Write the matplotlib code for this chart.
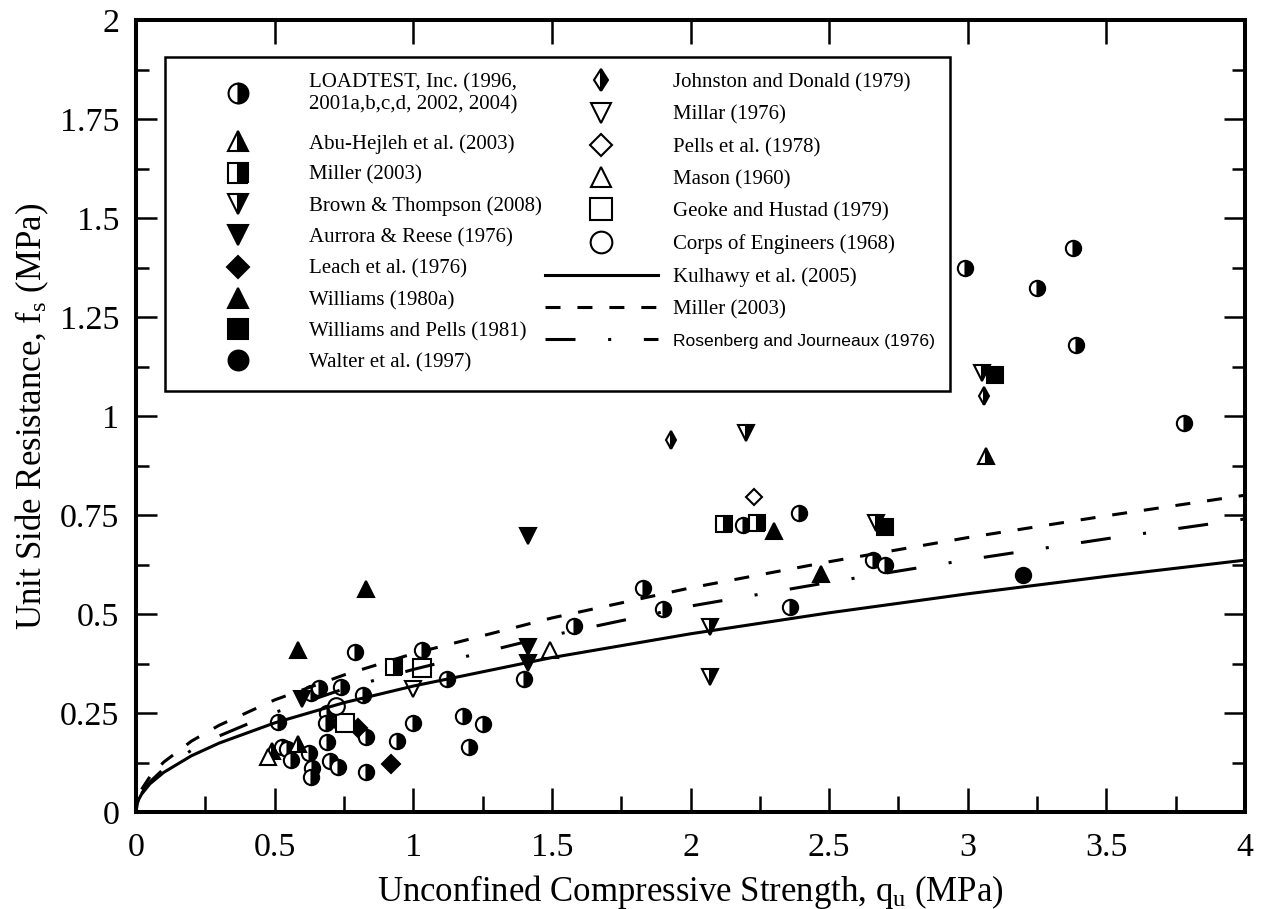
import matplotlib
matplotlib.use('Agg')
import matplotlib.pyplot as plt
from matplotlib.patches import Rectangle
from matplotlib.ticker import FixedLocator

plt.rcParams['font.family'] = 'Liberation Serif'
plt.rcParams['mathtext.fontset'] = 'custom'
plt.rcParams['mathtext.rm'] = 'Liberation Serif'
plt.rcParams['mathtext.it'] = 'Liberation Serif:italic'
plt.rcParams['lines.scale_dashes'] = False

# ── Data: q_u (MPa), f_s (MPa) ─────────────────────────────────────────────
loadtest_qu = [0.513, 0.525, 0.545, 0.56, 0.625, 0.635, 0.63, 0.63, 0.66, 0.69,
               0.685, 0.69, 0.70, 0.73, 0.74, 0.74, 0.79, 0.82, 0.83, 0.83,
               0.94, 1.0, 1.03, 1.12, 1.18, 1.20, 1.25, 1.40, 1.58, 1.83,
               1.90, 2.19, 2.36, 2.39, 2.66, 2.70, 2.99, 3.25, 3.38, 3.39, 3.78]
loadtest_fs = [0.227, 0.163, 0.160, 0.131, 0.149, 0.112, 0.088, 0.300, 0.313, 0.250,
               0.224, 0.177, 0.128, 0.114, 0.316, 0.224, 0.404, 0.295, 0.190, 0.100,
               0.180, 0.226, 0.410, 0.336, 0.243, 0.163, 0.222, 0.336, 0.470, 0.566,
               0.512, 0.725, 0.518, 0.756, 0.637, 0.625, 1.375, 1.323, 1.424, 1.180, 0.982]

abu_qu = [0.49, 0.585, 3.065]
abu_fs = [0.155, 0.172, 0.900]

miller_pts_qu = [0.93, 2.12, 2.24]
miller_pts_fs = [0.365, 0.727, 0.730]

brown_qu = [2.07, 2.07, 2.20, 2.67, 3.05]
brown_fs = [0.468, 0.342, 0.957, 0.730, 1.108]

aurrora_qu = [0.60, 1.415, 1.415, 1.415]
aurrora_fs = [0.285, 0.697, 0.417, 0.377]

leach_qu = [0.80, 0.92]
leach_fs = [0.212, 0.120]

williams_qu = [0.585, 0.83, 2.30, 2.47]
williams_fs = [0.410, 0.563, 0.710, 0.600]

wpells_qu = [2.70, 3.10]
wpells_fs = [0.720, 1.104]

walter_qu = [3.20]
walter_fs = [0.598]

johnston_qu = [1.93, 3.06]
johnston_fs = [0.940, 1.050]

millar_qu = [1.0]
millar_fs = [0.310]

pells_qu = [2.23]
pells_fs = [0.795]

mason_qu = [0.475, 1.495]
mason_fs = [0.138, 0.408]

geoke_qu = [0.755, 1.03]
geoke_fs = [0.224, 0.363]

corps_qu = [0.72]
corps_fs = [0.267]

# design curves, points
curve_qu = [0.0, 0.005, 0.01, 0.02, 0.05, 0.1, 0.2, 0.3, 0.5, 0.75, 1.0,
            1.5, 2.0, 2.5, 3.0, 3.5, 4.0]
kulhawy_fs = [0.0, 0.022, 0.032, 0.045, 0.071, 0.100, 0.142, 0.174, 0.225,
              0.276, 0.318, 0.390, 0.450, 0.503, 0.551, 0.595, 0.636]
miller_curve_qu = [0.02, 0.05, 0.1, 0.2, 0.3, 0.5, 0.75, 1.0, 1.5, 2.0, 2.5,
                   3.0, 3.5, 4.0]
miller_curve_fs = [0.057, 0.089, 0.126, 0.179, 0.219, 0.283, 0.346, 0.400,
                   0.490, 0.566, 0.632, 0.693, 0.748, 0.800]
rosen_qu = [0.02, 0.05, 0.1, 0.2, 0.3, 0.5, 0.75, 1.0, 1.5, 2.0, 2.5, 3.0,
            3.5, 4.0]
rosen_fs = [0.047, 0.076, 0.109, 0.156, 0.192, 0.251, 0.311, 0.360, 0.446,
            0.520, 0.580, 0.637, 0.690, 0.740]

xtick_vals = [0, 0.5, 1, 1.5, 2, 2.5, 3, 3.5, 4]
xtick_labels = ['0', '0.5', '1', '1.5', '2', '2.5', '3', '3.5', '4']
ytick_vals = [0, 0.25, 0.5, 0.75, 1, 1.25, 1.5, 1.75, 2]
ytick_labels = ['0', '0.25', '0.5', '0.75', '1', '1.25', '1.5', '1.75', '2']

# ── Series: (label, x, y, marker, fill, size) ─────────────────────────────
K, W = 'black', 'white'
series = [
    ('LOADTEST, Inc. (1996,\n2001a,b,c,d, 2002, 2004)', loadtest_qu, loadtest_fs, 'o', 'half', 11),
    ('Abu-Hejleh et al. (2003)', abu_qu, abu_fs, '^', 'half', 11),
    ('Miller (2003)', miller_pts_qu, miller_pts_fs, 's', 'half', 11),
    ('Brown & Thompson (2008)', brown_qu, brown_fs, 'v', 'half', 11),
    ('Aurrora & Reese (1976)', aurrora_qu, aurrora_fs, 'v', 'full', 11),
    ('Leach et al. (1976)', leach_qu, leach_fs, 'D', 'full', 9),
    ('Williams (1980a)', williams_qu, williams_fs, '^', 'full', 11),
    ('Williams and Pells (1981)', wpells_qu, wpells_fs, 's', 'full', 11),
    ('Walter et al. (1997)', walter_qu, walter_fs, 'o', 'full', 11),
    ('Johnston and Donald (1979)', johnston_qu, johnston_fs, 'd', 'half', 9),
    ('Millar (1976)', millar_qu, millar_fs, 'v', 'open', 11),
    ('Pells et al. (1978)', pells_qu, pells_fs, 'D', 'open', 8.5),
    ('Mason (1960)', mason_qu, mason_fs, '^', 'open', 11),
    ('Geoke and Hustad (1979)', geoke_qu, geoke_fs, 's', 'open', 12.5),
    ('Corps of Engineers (1968)', corps_qu, corps_fs, 'o', 'open', 12),
]

FW, FH = 1262, 909   # figure size in pixels
fig = plt.figure(figsize=(FW / 100, FH / 100), dpi=100)
ax = fig.add_axes([136 / FW, 1 - 812 / FH, (1245 - 136) / FW, (812 - 20) / FH])

handles = []
for label, xs, ys, mk, fill, ms in series:
    kw = dict(linestyle='none', marker=mk, markersize=ms, markeredgecolor=K,
              markeredgewidth=1.5, label=label)
    if fill == 'half':
        kw.update(fillstyle='right', markerfacecolor=K, markerfacecoloralt=W)
    elif fill == 'full':
        kw.update(markerfacecolor=K)
    else:
        kw.update(markerfacecolor=W)
    h, = ax.plot(xs, ys, zorder=3, **kw)
    handles.append(h)

h1, = ax.plot(curve_qu, kulhawy_fs, color=K, lw=2.2, zorder=4,
              label='Kulhawy et al. (2005)')
h2, = ax.plot(miller_curve_qu, miller_curve_fs, color=K, lw=2.2, zorder=4,
              dashes=(10.8, 12.2), label='Miller (2003)')
h3, = ax.plot(rosen_qu, rosen_fs, color=K, lw=2.2, zorder=4,
              dashes=(21.6, 23.5, 2.2, 23.5), label='Rosenberg and Journeaux (1976)')
handles += [h1, h2, h3]

ax.set_xlim(0, 4)
ax.set_ylim(0, 2)
ax.set_xticks(xtick_vals)
ax.set_xticklabels(xtick_labels)
ax.set_yticks(ytick_vals)
ax.set_yticklabels(ytick_labels)
ax.xaxis.set_minor_locator(FixedLocator([0.25, 0.75, 1.25, 1.75, 2.25, 2.75, 3.25, 3.75]))
ax.yaxis.set_minor_locator(FixedLocator([0.125, 0.375, 0.625, 0.875, 1.125, 1.375, 1.625, 1.875]))

ax.tick_params(axis='x', which='major', direction='in', length=17, width=1.8,
               top=True, bottom=True, labelsize=24.5, pad=15)
ax.tick_params(axis='x', which='minor', direction='in', length=11.5, width=1.8,
               top=False, bottom=True)
ax.tick_params(axis='y', which='major', direction='in', length=15, width=1.8,
               left=True, right=True, labelsize=24.5, pad=12)
ax.tick_params(axis='y', which='minor', direction='in', length=9.5, width=1.8,
               left=True, right=True)
for sp in ax.spines.values():
    sp.set_linewidth(2.9)

ax.set_xlabel(r'Unconfined Compressive Strength, q$_\mathrm{u}$ (MPa)', fontsize=25, labelpad=7)
ax.set_ylabel(r'Unit Side Resistance, f$_\mathrm{s}$ (MPa)', fontsize=25, labelpad=6)

# ── Legend: framed box holding three stacked blocks ───────────────────────
fig.add_artist(Rectangle((165 / FW, 1 - 391 / FH), (950 - 165) / FW, (391 - 57) / FH,
                         transform=fig.transFigure, facecolor=W, edgecolor=K,
                         lw=1.8, zorder=4))

leg_kw = dict(fontsize=15, markerscale=1.3, handlelength=5.42, handletextpad=0.72,
              frameon=False, loc='upper left', borderpad=0, borderaxespad=0)
fig.legend(handles=handles[:1], bbox_to_anchor=(181.5 / FW, 1 - 73 / FH), **leg_kw)
fig.legend(handles=handles[1:9], labelspacing=0.56,
           bbox_to_anchor=(181.5 / FW, 1 - 134 / FH), **leg_kw)
leg_r = fig.legend(handles=handles[9:], labelspacing=0.61,
                   bbox_to_anchor=(545 / FW, 1 - 73 / FH), **leg_kw)
leg_r.get_texts()[-1].set_fontfamily('Liberation Sans')
leg_r.get_texts()[-1].set_fontsize(12.6)

fig.savefig('out.png', dpi=100)
